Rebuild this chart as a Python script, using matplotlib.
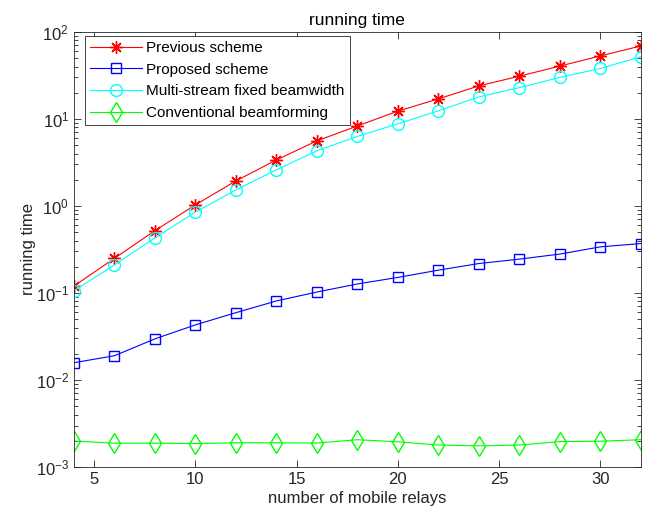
import numpy as np
import matplotlib.pyplot as plt
from matplotlib.ticker import LogLocator, FixedLocator, NullFormatter

plt.rcParams['font.family'] = ['Liberation Sans', 'DejaVu Sans']
plt.rcParams['mathtext.fontset'] = 'custom'
plt.rcParams['mathtext.rm'] = 'Liberation Sans'
plt.rcParams['mathtext.it'] = 'Liberation Sans'

relays = [4, 6, 8, 10, 12, 14, 16, 18, 20, 22, 24, 26, 28, 30, 32]
previous = [0.12, 0.25, 0.52, 1.03, 1.94, 3.38, 5.6, 8.3, 12.3, 17.0, 24.0, 31.0, 40.5, 53.0, 69.0]
proposed = [0.0158, 0.019, 0.0297, 0.043, 0.0594, 0.081, 0.1026, 0.127, 0.151,
            0.183, 0.218, 0.245, 0.28, 0.339, 0.37]
multistream = [0.106, 0.21, 0.43, 0.85, 1.53, 2.6, 4.3, 6.3, 8.8, 12.4, 17.9,
               22.9, 30.0, 38.0, 52.0]
conventional = [0.00199, 0.00188, 0.00188, 0.00186, 0.0019, 0.0019, 0.00189, 0.00206,
                0.00195, 0.00179, 0.00175, 0.00179, 0.00196, 0.00198, 0.00206]

dark = '#262626'
fig = plt.figure(figsize=(6.54, 5.23), dpi=100)
ax = fig.add_axes([0.113, 0.107, 0.867, 0.832])

# asterisk marker: 8 spokes like MATLAB's '*'
ax.plot(relays, previous, '-', marker=(8, 2, 0), color='red', lw=0.8, ms=9, mew=1.0,
        label='Previous scheme')
ax.plot(relays, proposed, '-s', color='blue', lw=0.8, ms=6.5, mfc='none', mew=1.0,
        label='Proposed scheme')
ax.plot(relays, multistream, '-o', color='cyan', lw=0.8, ms=8.5, mfc='none', mew=1.0,
        label='Multi-stream fixed beamwidth')
ax.plot(relays, conventional, '-d', color='#00ff00', lw=0.8, ms=10, mfc='none', mew=1.0,
        label='Conventional beamforming')

ax.set_yscale('log')
ax.set_xlim(4, 32)
ax.set_ylim(1e-3, 1e2)
ax.xaxis.set_major_locator(FixedLocator([5, 10, 15, 20, 25, 30]))
ax.yaxis.set_major_locator(LogLocator(base=10, numticks=10))
ax.yaxis.set_minor_locator(LogLocator(base=10, subs=np.arange(2, 10), numticks=20))
ax.yaxis.set_minor_formatter(NullFormatter())

ax.tick_params(which='both', direction='in', top=True, right=True, colors=dark,
               labelsize=12, width=0.6)
ax.tick_params(which='major', length=5)
ax.tick_params(which='minor', length=3)
for s in ax.spines.values():
    s.set_color(dark)
    s.set_linewidth(0.6)

ax.set_xlabel('number of mobile relays', fontsize=12, color=dark, labelpad=3)
ax.set_ylabel('running time', fontsize=12, color=dark, labelpad=0)
ax.set_title('running time', fontsize=12.5, color='black', pad=5)

leg = ax.legend(loc='upper left', bbox_to_anchor=(0.019, 0.991), fontsize=11,
                handlelength=3.4, handletextpad=0.25, fancybox=False, framealpha=1,
                borderaxespad=0, labelspacing=0.5, borderpad=0.35)
leg.get_frame().set_edgecolor(dark)
leg.get_frame().set_linewidth(0.6)

fig.savefig('out.png', dpi=100)
